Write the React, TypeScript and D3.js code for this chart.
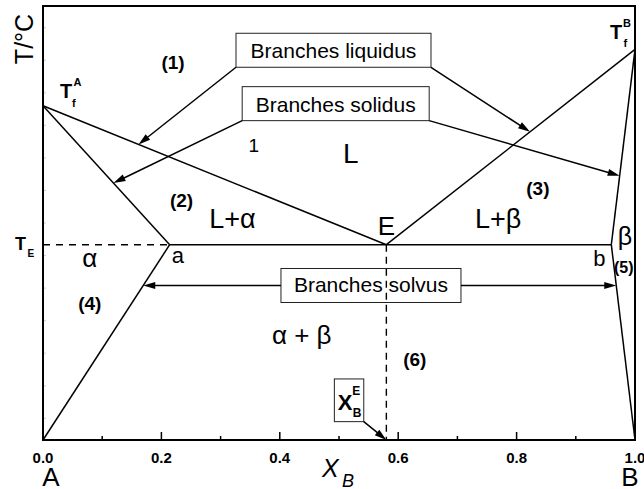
import React from "react";
import * as d3 from "d3";

const W = 644;
const H = 489;
const plot = { left: 43, right: 635, top: 6, bottom: 440 };

// Composition axis (mole fraction of B)
const xMajorTicks = [0, 0.2, 0.4, 0.6, 0.8, 1.0];
const xTickLabels = ["0.0", "0.2", "0.4", "0.6", "0.8", "1.0"];
const xMinorTicks = [0.1, 0.3, 0.5, 0.7, 0.9];
// Faint temperature ticks on the left axis (arbitrary temperature units)
const tMinorTicks = [5, 12.5, 20, 27.5, 35, 42.5, 50, 57.5, 65, 72.5, 80, 87.5, 95];

// Phase boundaries, as [x_B, T] pairs
const liquidusA: [number, number][] = [[0, 77], [0.58, 45]];
const liquidusB: [number, number][] = [[0.58, 45], [1, 90]];
const solidusA: [number, number][] = [[0, 77], [0.214, 45]];
const solidusB: [number, number][] = [[1, 90], [0.96, 45]];
const solvusA: [number, number][] = [[0.214, 45], [0, 0]];
const solvusB: [number, number][] = [[0.96, 45], [1, 0]];
const eutecticLine: [number, number][] = [[0.214, 45], [0.96, 45]];
const eutecticTempGuide: [number, number][] = [[0, 45], [0.214, 45]];
const eutecticCompGuide: [number, number][] = [[0.58, 45], [0.58, 0]];

// Temperatures at which the callout arrows meet each branch
const liquidusArrowT = [68.1, 71.0];
const solidusArrowT = [59.2, 60.9];
const solvusArrowT = [35.6, 35.6];

const x = d3.scaleLinear().domain([0, 1]).range([plot.left, plot.right]);
const y = d3.scaleLinear().domain([0, 100]).range([plot.bottom, plot.top]);
const line = d3
  .line<[number, number]>()
  .x((d) => x(d[0]))
  .y((d) => y(d[1]));

function xAtT(seg: [number, number][], t: number) {
  const [[x0, t0], [x1, t1]] = seg;
  return x0 + ((t - t0) / (t1 - t0)) * (x1 - x0);
}

function Arrow({ from, to }: { from: [number, number]; to: [number, number] }) {
  const [x1, y1] = from;
  const [x2, y2] = to;
  const dx = x2 - x1;
  const dy = y2 - y1;
  const L = Math.hypot(dx, dy);
  const ux = dx / L;
  const uy = dy / L;
  const len = 12;
  const hw = 3.6;
  const bx = x2 - ux * len;
  const by = y2 - uy * len;
  const head = `M${x2},${y2}L${bx - uy * hw},${by + ux * hw}L${bx + uy * hw},${by - ux * hw}Z`;
  return (
    <g>
      <line x1={x1} y1={y1} x2={bx + ux * 2} y2={by + uy * 2} stroke="#000" strokeWidth={1.5} />
      <path d={head} fill="#000" />
    </g>
  );
}

type Box = { cx: number; cy: number; w: number; h: number };
const boxRect = (b: Box) => ({
  x0: x(b.cx) - b.w / 2,
  x1: x(b.cx) + b.w / 2,
  y0: y(b.cy) - b.h / 2,
  y1: y(b.cy) + b.h / 2,
});

const liqBox = boxRect({ cx: 0.4907, cy: 89.8, w: 195, h: 34 });
const solBox = boxRect({ cx: 0.4944, cy: 77.5, w: 187, h: 34 });
const svsBox = boxRect({ cx: 0.554, cy: 35.6, w: 180, h: 34 });
const xeBox = boxRect({ cx: 0.517, cy: 9.15, w: 29.4, h: 42.7 });

const font = "Liberation Sans, Arial, Helvetica, sans-serif";

export default function App() {
  const bold = { fontWeight: 700 as const };
  return (
    <svg
      width={W}
      height={H}
      viewBox={`0 0 ${W} ${H}`}
      style={{ position: "absolute", left: 0, top: 0, background: "#fff" }}
      fontFamily={font}
    >
      <rect width={W} height={H} fill="#fff" />

      {/* faint temperature ticks */}
      {tMinorTicks.map((t) => (
        <line key={t} x1={plot.left} x2={plot.left + 3} y1={y(t)} y2={y(t)} stroke="#d0d0d0" strokeWidth={1} />
      ))}

      {/* composition ticks, pointing inward */}
      {xMajorTicks.map((v) => (
        <line key={"M" + v} x1={x(v)} x2={x(v)} y1={plot.bottom} y2={plot.bottom - 8} stroke="#000" strokeWidth={1.5} />
      ))}
      {xMinorTicks.map((v) => (
        <line key={"m" + v} x1={x(v)} x2={x(v)} y1={plot.bottom} y2={plot.bottom - 4} stroke="#000" strokeWidth={1.5} />
      ))}
      {xMajorTicks.map((v, i) => (
        <text key={"l" + v} x={x(v)} y={463} textAnchor="middle" fontSize={15} {...bold}>
          {xTickLabels[i]}
        </text>
      ))}

      {/* frame */}
      <rect
        x={plot.left}
        y={plot.top}
        width={plot.right - plot.left}
        height={plot.bottom - plot.top}
        fill="none"
        stroke="#000"
        strokeWidth={2}
      />

      {/* guides at the eutectic */}
      <path d={line(eutecticTempGuide)!} fill="none" stroke="#000" strokeWidth={1.4} strokeDasharray="7,6" />
      <path d={line(eutecticCompGuide)!} fill="none" stroke="#000" strokeWidth={1.4} strokeDasharray="7,5" />

      {/* phase boundaries */}
      {[liquidusA, liquidusB, solidusA, solidusB, solvusA, solvusB, eutecticLine].map((seg, i) => (
        <path key={i} d={line(seg)!} fill="none" stroke="#000" strokeWidth={1.5} />
      ))}

      {/* callout boxes */}
      {[liqBox, solBox, svsBox, xeBox].map((b, i) => (
        <rect key={i} x={b.x0} y={b.y0} width={b.x1 - b.x0} height={b.y1 - b.y0} fill="none" stroke="#222" strokeWidth={1} />
      ))}
      <text x={(liqBox.x0 + liqBox.x1) / 2} y={liqBox.y1 - 9.5} textAnchor="middle" fontSize={21}>
        Branches liquidus
      </text>
      <text x={(solBox.x0 + solBox.x1) / 2} y={solBox.y1 - 9} textAnchor="middle" fontSize={21}>
        Branches solidus
      </text>
      <text x={(svsBox.x0 + svsBox.x1) / 2} y={svsBox.y1 - 10} textAnchor="middle" fontSize={21}>
        Branches solvus
      </text>

      {/* callout arrows */}
      <Arrow from={[liqBox.x0, liqBox.y1]} to={[x(xAtT(liquidusA, liquidusArrowT[0])), y(liquidusArrowT[0])]} />
      <Arrow from={[liqBox.x1, liqBox.y1]} to={[x(xAtT(liquidusB, liquidusArrowT[1])), y(liquidusArrowT[1])]} />
      <Arrow from={[solBox.x0, solBox.y1]} to={[x(xAtT(solidusA, solidusArrowT[0])), y(solidusArrowT[0])]} />
      <Arrow from={[solBox.x1, solBox.y1]} to={[x(xAtT(solidusB, solidusArrowT[1])), y(solidusArrowT[1])]} />
      <Arrow from={[svsBox.x0, y(solvusArrowT[0])]} to={[x(xAtT(solvusA, solvusArrowT[0])), y(solvusArrowT[0])]} />
      <Arrow from={[svsBox.x1, y(solvusArrowT[1])]} to={[x(xAtT(solvusB, solvusArrowT[1])), y(solvusArrowT[1])]} />
      <Arrow from={[xeBox.x1, xeBox.y1]} to={[x(eutecticCompGuide[1][0]), y(eutecticCompGuide[1][1])]} />

      {/* X_B^E inside its box */}
      <text x={xeBox.x0 + 3.5} y={xeBox.y0 + 31.5} fontSize={22} {...bold}>X</text>
      <text x={xeBox.x0 + 18} y={xeBox.y0 + 16} fontSize={12} {...bold}>E</text>
      <text x={xeBox.x0 + 18.5} y={xeBox.y0 + 38} fontSize={12} {...bold}>B</text>

      {/* region numbers */}
      <g fontSize={19} {...bold} textAnchor="middle">
        <text x={x(0.2196)} y={y(87.1) + 7}>(1)</text>
        <text x={x(0.234)} y={y(55.3) + 7}>(2)</text>
        <text x={x(0.836)} y={y(58.1) + 7}>(3)</text>
        <text x={x(0.079)} y={y(31.6) + 7}>(4)</text>
        <text x={x(0.628)} y={y(18.7) + 7}>(6)</text>
      </g>
      <text x={x(0.981)} y={y(39.9) + 6} fontSize={16} {...bold} textAnchor="middle">(5)</text>

      {/* phase field labels */}
      <g textAnchor="middle">
        <text x={x(0.356)} y={y(68) + 7} fontSize={19}>1</text>
        <text x={x(0.52)} y={y(66.1) + 10} fontSize={28}>L</text>
        <text x={x(0.32)} y={228} fontSize={27}>L+α</text>
        <text x={x(0.769)} y={228} fontSize={27}>L+β</text>
        <text x={x(0.58)} y={235} fontSize={26}>E</text>
        <text x={x(0.079)} y={267} fontSize={26}>α</text>
        <text x={x(0.228)} y={263} fontSize={22}>a</text>
        <text x={x(0.94)} y={266} fontSize={22}>b</text>
        <text x={x(0.983)} y={245} fontSize={25}>β</text>
        <text x={x(0.437)} y={344} fontSize={26}>α + β</text>
      </g>

      {/* melting points and eutectic temperature */}
      <text x={60} y={98.3} fontSize={20} {...bold}>T</text>
      <text x={73.5} y={86} fontSize={11} {...bold}>A</text>
      <text x={72} y={107} fontSize={11} {...bold}>f</text>

      <text x={610} y={39.3} fontSize={20} {...bold}>T</text>
      <text x={623} y={26.5} fontSize={11} {...bold}>B</text>
      <text x={623.5} y={47} fontSize={11} {...bold}>f</text>

      <text x={15} y={250} fontSize={18} {...bold}>T</text>
      <text x={27.5} y={257} fontSize={10} {...bold}>E</text>

      {/* axis titles */}
      <text transform={`translate(33,39) rotate(-90)`} textAnchor="middle" fontSize={25}>
        T/°C
      </text>
      <text x={x(0) + 8} y={486} textAnchor="middle" fontSize={26}>A</text>
      <text x={x(1) - 5} y={486} textAnchor="middle" fontSize={26}>B</text>
      <text x={322} y={477} fontSize={25} fontStyle="italic">X</text>
      <text x={342} y={487} fontSize={18} fontStyle="italic">B</text>
    </svg>
  );
}
